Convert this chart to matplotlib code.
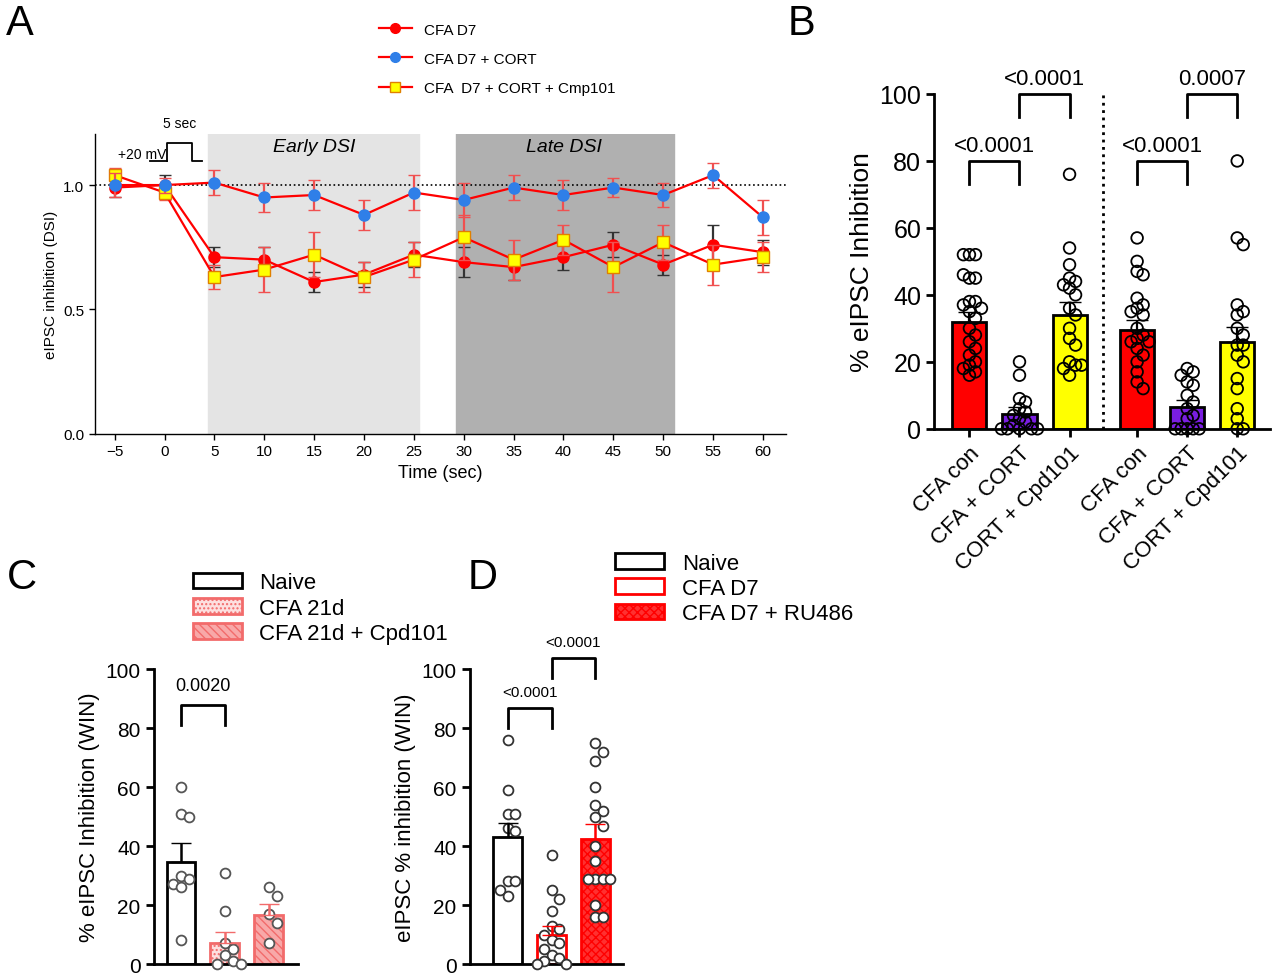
import numpy as np
import matplotlib.pyplot as plt
from matplotlib.lines import Line2D
from matplotlib.patches import Patch

plt.rcParams['font.family'] = ['Liberation Sans', 'DejaVu Sans']
plt.rcParams['hatch.linewidth'] = 1.0

# ---------------- data ----------------
# Panel A
time_s = [-5, 0, 5, 10, 15, 20, 25, 30, 35, 40, 45, 50, 55, 60]
cfa_d7 = [0.99, 1.00, 0.71, 0.70, 0.61, 0.64, 0.72, 0.69, 0.67, 0.71, 0.76, 0.68, 0.76, 0.73]
cfa_d7_err = [0.04, 0.04, 0.04, 0.05, 0.04, 0.05, 0.05, 0.06, 0.05, 0.05, 0.05, 0.04, 0.08, 0.05]
cfa_cort = [1.00, 1.00, 1.01, 0.95, 0.96, 0.88, 0.97, 0.94, 0.99, 0.96, 0.99, 0.96, 1.04, 0.87]
cfa_cort_err = [0.05, 0.03, 0.05, 0.06, 0.06, 0.06, 0.07, 0.07, 0.05, 0.06, 0.04, 0.05, 0.05, 0.07]
cfa_cmp = [1.04, 0.97, 0.63, 0.66, 0.72, 0.63, 0.70, 0.79, 0.70, 0.78, 0.67, 0.77, 0.68, 0.71]
cfa_cmp_err = [0.03, 0.03, 0.05, 0.09, 0.09, 0.06, 0.07, 0.09, 0.08, 0.06, 0.10, 0.07, 0.08, 0.06]

# Panel B
b_labels = ['CFA con', 'CFA + CORT', 'CORT + Cpd101', 'CFA con', 'CFA + CORT', 'CORT + Cpd101']
b_means = [32, 4.5, 34, 29.5, 6.5, 26]
b_err = [3, 2, 4, 3, 2, 4.5]
b_points = [
    [52, 52, 52, 45, 45, 46, 38, 38, 37, 36, 35, 33, 30, 28, 26, 24, 22, 20, 19, 18, 16, 17],
    [20, 16, 9, 8, 6, 5, 4, 3, 2, 1, 0, 0, 0, 0, 0],
    [76, 54, 49, 45, 44, 43, 42, 40, 36, 34, 30, 27, 25, 20, 19, 18, 19, 16],
    [57, 50, 47, 46, 39, 37, 36, 35, 34, 30, 28, 27, 26, 26, 24, 22, 20, 17, 14, 12],
    [18, 17, 16, 14, 13, 10, 8, 6, 4, 3, 0, 0, 0, 0, 0],
    [80, 57, 55, 37, 35, 34, 30, 28, 25, 25, 22, 20, 15, 12, 6, 3, 0, 0],
]

# Panel C
c_labels = ['Naive', 'CFA 21d', 'CFA 21d + Cpd101']
c_means = [34.5, 7, 16.5]
c_err = [6.5, 4, 4]
c_points = [
    [60, 51, 50, 30, 29, 27, 26, 8],
    [31, 18, 7, 5, 3, 1, 0, 0],
    [26, 23, 17, 14, 7],
]

# Panel D
d_labels = ['Naive', 'CFA D7', 'CFA D7 + RU486']
d_means = [43, 10, 42.5]
d_err = [5, 3, 5]
d_points = [
    [76, 59, 51, 51, 46, 45, 28, 28, 25, 23],
    [37, 25, 22, 18, 13, 12, 10, 8, 7, 5, 3, 2, 1, 0, 0],
    [75, 72, 69, 60, 54, 52, 50, 47, 40, 35, 29, 29, 29, 29, 20, 16, 16],
]

SALMON = '#f26b6b'


def swarm_offsets(vals, ystep, xstep):
    # simple deterministic beeswarm
    placed = []
    offs = []
    for v in vals:
        k = 0
        while True:
            cands = [0.0] if k == 0 else [k * xstep, -k * xstep]
            ok = None
            for c in cands:
                if all(abs(c - po) >= xstep * 0.99 or abs(v - pv) >= ystep for po, pv in placed):
                    ok = c
                    break
            if ok is not None:
                break
            k += 1
        placed.append((ok, v))
        offs.append(ok)
    return np.array(offs)


def style_axes(ax, lw=2):
    for s in ['top', 'right']:
        ax.spines[s].set_visible(False)
    for s in ['left', 'bottom']:
        ax.spines[s].set_linewidth(lw)
    ax.tick_params(width=lw, length=6)


def bracket(ax, x1, x2, y, h, text, fs, gap=0.2):
    ax.plot([x1, x1, x2, x2], [y - h, y, y, y - h], color='black', lw=2, clip_on=False)
    ax.text((x1 + x2) / 2, y + h * gap, text, ha='center', va='bottom', fontsize=fs, clip_on=False)


fig = plt.figure(figsize=(12.8, 9.79), dpi=100)

# ---------------- Panel A ----------------
axA = fig.add_axes([0.074, 0.556, 0.54, 0.306])
axA.axvspan(4.4, 25.5, ymax=1.01, color='#e4e4e4', zorder=0)
axA.axvspan(29.2, 51.1, ymax=1.01, color='#b0b0b0', zorder=0)
axA.axhline(1.0, color='black', ls=':', lw=1.2, zorder=1)
axA.text(15, 1.155, 'Early DSI', style='italic', ha='center', va='center', fontsize=14)
axA.text(40, 1.155, 'Late DSI', style='italic', ha='center', va='center', fontsize=14)
axA.errorbar(time_s, cfa_d7, yerr=cfa_d7_err, color='red', ecolor='#333333', capsize=4, lw=1.6,
             marker='o', ms=8, mfc='red', mec='red', zorder=3)
axA.errorbar(time_s, cfa_cmp, yerr=cfa_cmp_err, color='red', ecolor='#f05050', capsize=4, lw=1.6,
             marker='s', ms=8, mfc='yellow', mec='#e08000', zorder=4)
axA.errorbar(time_s, cfa_cort, yerr=cfa_cort_err, color='red', ecolor='#f05050', capsize=4, lw=1.6,
             marker='o', ms=8, mfc='#2f7fe8', mec='#2f7fe8', zorder=5)
# step pulse icon
axA.plot([0.2, 0.2, 2.8, 2.8, 3.8], [1.0 + 0.095, 1.17, 1.17, 1.095, 1.095], color='black', lw=1.3,
         clip_on=False)
axA.plot([-1.5, 0.2], [1.095, 1.095], color='black', lw=1.3)
axA.text(-2.2, 1.125, '+20 mV', fontsize=10, ha='center', va='center')
axA.text(1.5, 1.25, '5 sec', fontsize=10, ha='center', va='center')
axA.set_xlim(-7, 62.3)
axA.set_ylim(0, 1.205)
axA.set_xticks(time_s)
axA.set_yticks([0.0, 0.5, 1.0])
axA.set_yticklabels(['0.0', '0.5', '1.0'])
axA.set_xlabel('Time (sec)', fontsize=13)
axA.set_ylabel('eIPSC inhibition (DSI)', fontsize=11)
axA.tick_params(labelsize=11)
style_axes(axA, lw=1)
axA.tick_params(width=1, length=4)

handlesA = [
    Line2D([], [], color='red', marker='o', ms=7, mfc='red', mec='red', lw=1.6),
    Line2D([], [], color='red', marker='o', ms=7, mfc='#2f7fe8', mec='#2f7fe8', lw=1.6),
    Line2D([], [], color='red', marker='s', ms=7, mfc='yellow', mec='#e08000', lw=1.6),
]
fig.legend(handlesA, ['CFA D7', 'CFA D7 + CORT', 'CFA  D7 + CORT + Cmp101'], loc='upper left',
           bbox_to_anchor=(0.285, 0.99), frameon=False, fontsize=11, handlelength=2.2, labelspacing=1.0)

# ---------------- Panel B ----------------
axB = fig.add_axes([0.730, 0.561, 0.262, 0.342])
b_pos = np.array([0, 1, 2, 3.35, 4.35, 5.35])
b_cols = ['red', '#7a1ee0', 'yellow', 'red', '#7a1ee0', 'yellow']
axB.bar(b_pos, b_means, width=0.68, color=b_cols, edgecolor='black', lw=2, zorder=2)
for p, m, e, pts in zip(b_pos, b_means, b_err, b_points):
    offs = swarm_offsets(pts, 2.6, 0.12)
    axB.scatter(p + offs, pts, s=70, facecolor='none', edgecolor='black', lw=1.3, zorder=3, clip_on=False)
    axB.errorbar(p, m, yerr=[[0], [e]], color='black', capsize=8, lw=1.6, zorder=4)
axB.axvline(2.67, color='black', ls=':', lw=2)
bracket(axB, 0, 1, 80, 7, '<0.0001', 16)
bracket(axB, 1, 2, 100, 7, '<0.0001', 16)
bracket(axB, 3.35, 4.35, 80, 7, '<0.0001', 16)
bracket(axB, 4.35, 5.35, 100, 7, '0.0007', 16)
axB.set_xlim(-0.7, 6.0)
axB.set_ylim(0, 100)
axB.set_yticks(range(0, 101, 20))
axB.set_xticks(b_pos)
axB.set_xticklabels(b_labels, rotation=45, ha='right', rotation_mode='anchor', fontsize=16)
axB.tick_params(axis='y', labelsize=18)
axB.set_ylabel('% eIPSC Inhibition', fontsize=19)
style_axes(axB)

# ---------------- Panel C ----------------
axC = fig.add_axes([0.120, 0.0143, 0.1125, 0.301])
c_pos = np.arange(3)
c_fill = ['white', '#fde0e0', '#f8a8a8']
c_edge = ['black', SALMON, SALMON]
c_hatch = [None, '....', '\\\\\\\\']
for p, m, e, fc, ec, h in zip(c_pos, c_means, c_err, c_fill, c_edge, c_hatch):
    axC.bar(p, m, width=0.65, color=fc, edgecolor=ec, hatch=h, lw=2, zorder=2)
    axC.errorbar(p, m, yerr=[[0], [e]], color=ec, capsize=7, lw=1.8, zorder=4)
for p, pts in zip(c_pos, c_points):
    offs = swarm_offsets(pts, 3.5, 0.18)
    axC.scatter(p + offs, pts, s=50, facecolor='white', edgecolor='#555555', lw=1.3, zorder=3,
                clip_on=False)
bracket(axC, 0, 1, 88, 7, '0.0020', 13, gap=0.5)
axC.set_xlim(-0.62, 2.66)
axC.set_ylim(0, 100)
axC.set_yticks(range(0, 101, 20))
axC.set_xticks([])
axC.tick_params(axis='y', labelsize=15)
axC.set_ylabel('% eIPSC Inhibition (WIN)', fontsize=16)
style_axes(axC)
handlesC = [Patch(facecolor=f, edgecolor=e, hatch=h, lw=2) for f, e, h in zip(c_fill, c_edge, c_hatch)]
fig.legend(handlesC, c_labels, loc='upper left', bbox_to_anchor=(0.135, 0.435), frameon=False,
           fontsize=16, handlelength=2.2, labelspacing=0.2)

# ---------------- Panel D ----------------
axD = fig.add_axes([0.367, 0.0143, 0.12, 0.301])
d_pos = np.arange(3)
d_fill = ['white', 'white', '#ff3030']
d_edge = ['black', 'red', 'red']
d_hatch = [None, None, 'xxxx']
for p, m, e, fc, ec, h in zip(d_pos, d_means, d_err, d_fill, d_edge, d_hatch):
    axD.bar(p, m, width=0.66, color=fc, edgecolor=ec, hatch=h, lw=2, zorder=2)
    axD.errorbar(p, m, yerr=[[0], [e]], color=ec, capsize=7, lw=1.8, zorder=4)
for p, pts in zip(d_pos, d_points):
    offs = swarm_offsets(pts, 3.5, 0.17)
    axD.scatter(p + offs, pts, s=50, facecolor='white', edgecolor='#333333', lw=1.3, zorder=3,
                clip_on=False)
bracket(axD, 0, 1, 87, 7, '<0.0001', 11, gap=0.4)
bracket(axD, 1, 2, 104, 7, '<0.0001', 11, gap=0.4)
axD.set_xlim(-0.87, 2.64)
axD.set_ylim(0, 100)
axD.set_yticks(range(0, 101, 20))
axD.set_xticks([])
axD.tick_params(axis='y', labelsize=15)
axD.set_ylabel('eIPSC % inhibition (WIN)', fontsize=16)
style_axes(axD)
handlesD = [Patch(facecolor=f, edgecolor=e, hatch=h, lw=2) for f, e, h in zip(d_fill, d_edge, d_hatch)]
fig.legend(handlesD, d_labels, loc='upper left', bbox_to_anchor=(0.465, 0.455), frameon=False,
           fontsize=16, handlelength=2.2, labelspacing=0.2)

# panel letters
for lbl, x, y in [('A', 0.005, 0.975), ('B', 0.615, 0.975), ('C', 0.005, 0.41), ('D', 0.365, 0.41)]:
    fig.text(x, y, lbl, fontsize=30, va='center')

fig.savefig('out.png', dpi=100)
